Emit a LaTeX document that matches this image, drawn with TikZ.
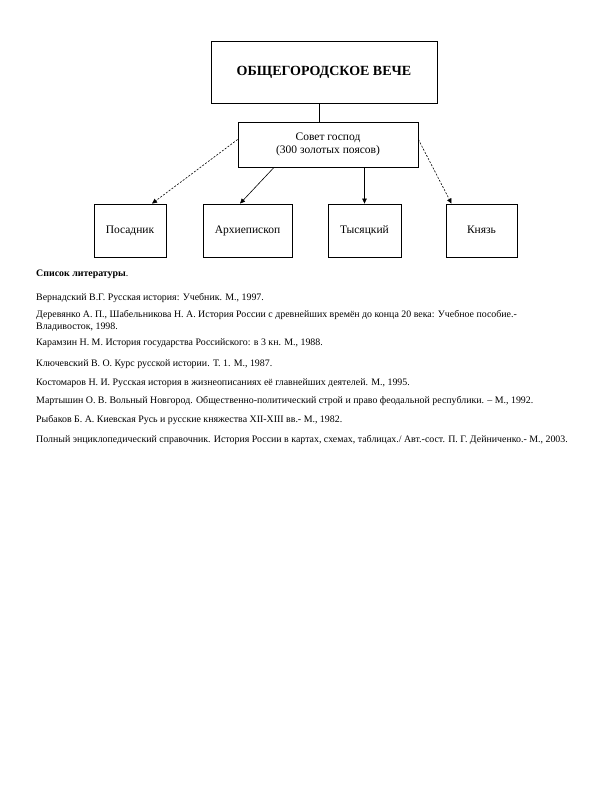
\documentclass[tikz,border=0pt]{standalone}
\usepackage{fontspec}
\setmainfont{Liberation Serif}
\usetikzlibrary{arrows.meta}
\begin{document}
\begin{tikzpicture}[x=1pt,y=-1pt,
  box/.style={draw,line width=0.8pt,inner sep=0pt,font=\fontsize{11.5}{13}\selectfont},
  leaf/.style={box,minimum height=53pt,text height=8pt,text depth=2.5pt},
  arr/.style={line width=0.6pt,-{Triangle[length=5pt,width=4.5pt]}},
  dsh/.style={arr,dash pattern=on 2pt off 1.5pt},
  ref/.style={anchor=west,inner sep=0pt,font=\fontsize{9.9}{12}\selectfont,align=left}]
\useasboundingbox (0,0) rectangle (612,792);
\node[box,minimum width=226pt,minimum height=62pt,font=\bfseries\fontsize{14}{16}\selectfont] (veche) at (324,72) {ОБЩЕГОРОДСКОЕ ВЕЧЕ};
\node[box,minimum width=180pt,minimum height=45pt,align=center] (sovet) at (328,144.5) {Совет господ\\(300 золотых поясов)};
\node[leaf,minimum width=72pt] (pos) at (130,230.5) {Посадник};
\node[leaf,minimum width=89pt] (arch) at (247.5,230.5) {Архиепископ};
\node[leaf,minimum width=73pt] (tys) at (364.5,230.5) {Тысяцкий};
\node[leaf,minimum width=71pt] (kn) at (481.5,230.5) {Князь};
\draw[line width=0.6pt] ([xshift=-5pt]veche.south) -- ([xshift=-9pt]sovet.north);
\draw[dsh] ([yshift=5pt]sovet.west) -- ([xshift=22pt]pos.north);
\draw[arr] ([xshift=-54pt]sovet.south) -- ([xshift=-7.5pt]arch.north);
\draw[arr] ([xshift=36.5pt]sovet.south) -- (tys.north);
\draw[dsh] ([yshift=5pt]sovet.east) -- ([xshift=-30pt]kn.north);
\node[ref] (t0) at (36,274) {\textbf{Список литературы}.};
\node[ref] (t1) at (36,298) {Вернадский В.Г. Русская история: Учебник. М., 1997.};
\node[ref] (t2) at (36,320.5) {Деревянко А. П., Шабельникова Н. А. История России с древнейших времён до конца 20 века: Учебное пособие.-\\Владивосток, 1998.};
\node[ref] (t3) at (36,343) {Карамзин Н. М. История государства Российского: в 3 кн. М., 1988.};
\node[ref] (t4) at (36,364) {Ключевский В. О. Курс русской истории. Т. 1. М., 1987.};
\node[ref] (t5) at (36,383) {Костомаров Н. И. Русская история в жизнеописаниях её главнейших деятелей. М., 1995.};
\node[ref] (t6) at (36,401) {Мартышин О. В. Вольный Новгород. Общественно-политический строй и право феодальной республики. – М., 1992.};
\node[ref] (t7) at (36,420) {Рыбаков Б. А. Киевская Русь и русские княжества XII-XIII вв.- М., 1982.};
\node[ref] (t8) at (36,440) {Полный энциклопедический справочник. История России в картах, схемах, таблицах./ Авт.-сост. П. Г. Дейниченко.- М., 2003.};
\end{tikzpicture}
\end{document}
